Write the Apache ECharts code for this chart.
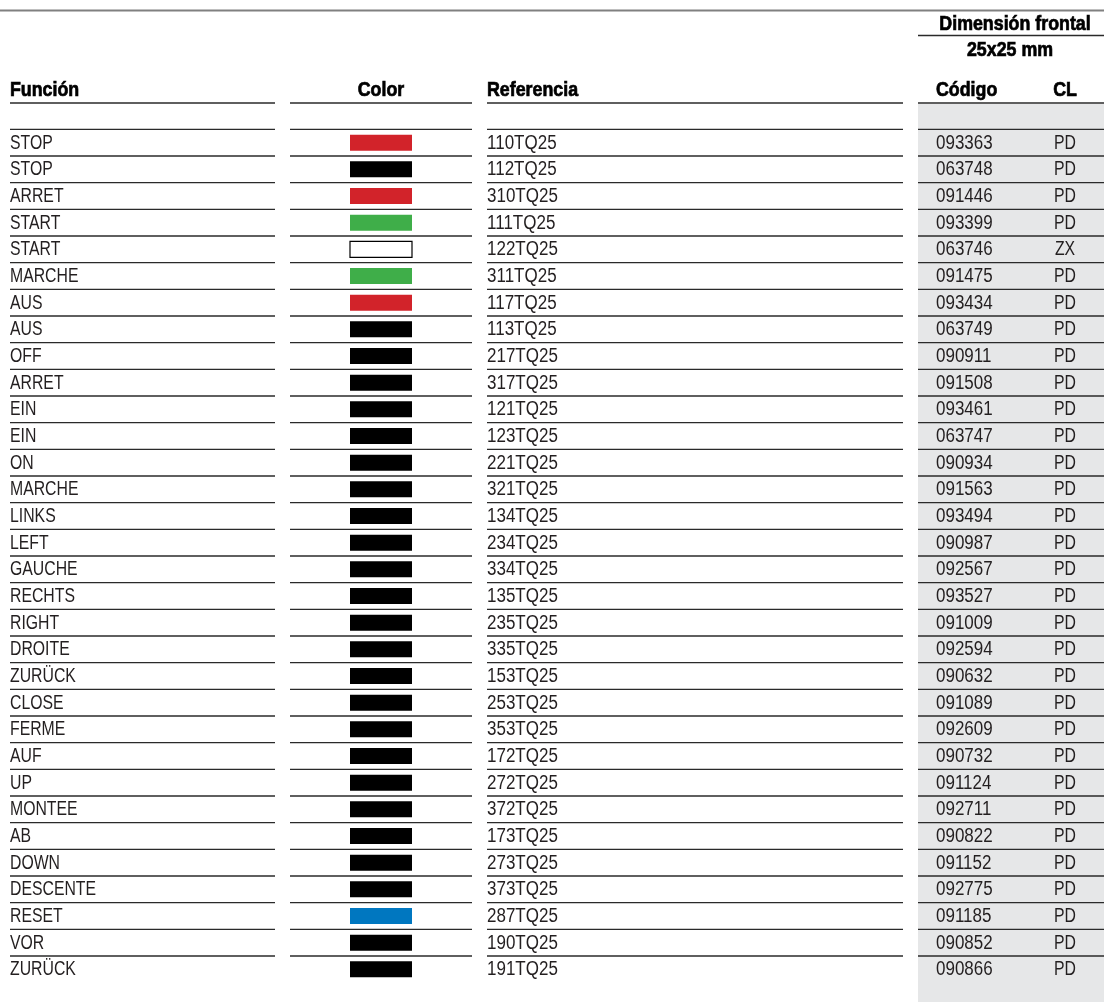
<!DOCTYPE html>
<html>
<head>
<meta charset="utf-8">
<script src="https://cdn.jsdelivr.net/npm/echarts@6/dist/echarts.min.js"></script>
<style>
html,body{margin:0;padding:0;background:#fff;}
#chart{width:1104px;height:1002px;}
</style>
</head>
<body>
<div id="chart"></div>
<script>
// ---- data ----
const funciones = ['STOP','STOP','ARRET','START','START','MARCHE','AUS','AUS','OFF','ARRET','EIN','EIN','ON','MARCHE','LINKS','LEFT','GAUCHE','RECHTS','RIGHT','DROITE','ZURÜCK','CLOSE','FERME','AUF','UP','MONTEE','AB','DOWN','DESCENTE','RESET','VOR','ZURÜCK'];
const colores = ['rojo','negro','rojo','verde','blanco','verde','rojo','negro','negro','negro','negro','negro','negro','negro','negro','negro','negro','negro','negro','negro','negro','negro','negro','negro','negro','negro','negro','negro','negro','azul','negro','negro'];
const referencias = ['110TQ25','112TQ25','310TQ25','111TQ25','122TQ25','311TQ25','117TQ25','113TQ25','217TQ25','317TQ25','121TQ25','123TQ25','221TQ25','321TQ25','134TQ25','234TQ25','334TQ25','135TQ25','235TQ25','335TQ25','153TQ25','253TQ25','353TQ25','172TQ25','272TQ25','372TQ25','173TQ25','273TQ25','373TQ25','287TQ25','190TQ25','191TQ25'];
const codigos = ['093363','063748','091446','093399','063746','091475','093434','063749','090911','091508','093461','063747','090934','091563','093494','090987','092567','093527','091009','092594','090632','091089','092609','090732','091124','092711','090822','091152','092775','091185','090852','090866'];
const clases = ['PD','PD','PD','PD','ZX','PD','PD','PD','PD','PD','PD','PD','PD','PD','PD','PD','PD','PD','PD','PD','PD','PD','PD','PD','PD','PD','PD','PD','PD','PD','PD','PD'];
const encabezados = ['Función','Color','Referencia','Código','CL'];
const grupoTitulo = 'Dimensión frontal';
const grupoSub = '25x25 mm';

// ---- styles / layout ----
const palette = {rojo:'#d2232a', negro:'#000000', verde:'#3fae49', blanco:'#ffffff', azul:'#0077c0'};
const FONT = '"Liberation Sans",Arial,sans-serif';
const FS = 20;
const TXT = '#231f20';
const LINE = '#2a2a2a';
const SX_TXT = 0.79, SX_NUM = 0.85, SX_HDR = 0.89;
const COL = {func:10, funcEnd:275, colorStart:290, colorEnd:472, swL:350, swR:412, ref:487, refEnd:903, gray:918, code:936, cl:1065, end:1104};
const segs = [[COL.func, COL.funcEnd],[COL.colorStart, COL.colorEnd],[COL.ref, COL.refEnd],[COL.gray, COL.end]];
const ROW_TOP = 129.33, ROW_H = 26.667;

const chart = echarts.init(document.getElementById('chart'), null, {renderer:'canvas'});

function txtEl(t, x, y, align, sx, font, fill, heavy) {
  const style = {text:t, x:0, y:0, fill:fill, font:font, textAlign:align, textVerticalAlign:'middle', align:align, verticalAlign:'middle'};
  if (heavy) { style.stroke = fill; style.lineWidth = 0.7; }
  return {type:'text', x:x, y:y, scaleX:sx, scaleY:1, style:style};
}

function renderItem(params, api) {
  const i = api.value(0);
  const yc = api.coord([0, i])[1];
  const h = api.size([0, 1])[1];
  const top = yc - h / 2;
  const X = v => api.coord([v, i])[0];
  const ty = yc + 0.5;
  const children = [];
  segs.forEach(s => {
    children.push({type:'line', shape:{x1:X(s[0]), y1:top, x2:X(s[1]), y2:top}, style:{stroke:LINE, lineWidth:1.3}});
  });
  const col = colores[i];
  children.push({type:'rect', shape:{x:X(COL.swL), y:yc-8, width:X(COL.swR)-X(COL.swL), height:16},
    style:{fill:palette[col], stroke: col === 'blanco' ? '#000' : null, lineWidth: col === 'blanco' ? 1.2 : 0}});
  const f = FS + 'px ' + FONT;
  children.push(txtEl(funciones[i], X(COL.func), ty, 'left', SX_TXT, f, TXT));
  children.push(txtEl(referencias[i], X(COL.ref), ty, 'left', SX_NUM, f, TXT));
  children.push(txtEl(codigos[i], X(COL.code), ty, 'left', SX_NUM, f, TXT));
  children.push(txtEl(clases[i], X(COL.cl), ty, 'center', SX_TXT, f, TXT));
  return {type:'group', children};
}

const hdrFont = 'bold ' + FS + 'px ' + FONT;
const hdrY = 90;
const graphics = [
  {type:'rect', z:-10, shape:{x:COL.gray, y:104, width:COL.end-COL.gray, height:1002-104}, style:{fill:'#e6e7e8'}},
  {type:'line', shape:{x1:0, y1:10.5, x2:1104, y2:10.5}, style:{stroke:'#808080', lineWidth:2}},
  txtEl(grupoTitulo, 1015, 24, 'center', SX_HDR, hdrFont, '#000', true),
  {type:'line', shape:{x1:COL.gray, y1:35.5, x2:COL.end, y2:35.5}, style:{stroke:LINE, lineWidth:1.3}},
  txtEl(grupoSub, 1010, 50, 'center', SX_HDR, hdrFont, '#000', true),
  txtEl(encabezados[0], COL.func, hdrY, 'left', SX_HDR, hdrFont, '#000', true),
  txtEl(encabezados[1], (COL.swL+COL.swR)/2, hdrY, 'center', SX_HDR, hdrFont, '#000', true),
  txtEl(encabezados[2], COL.ref, hdrY, 'left', SX_HDR, hdrFont, '#000', true),
  txtEl(encabezados[3], COL.code, hdrY, 'left', SX_HDR, hdrFont, '#000', true),
  txtEl(encabezados[4], COL.cl, hdrY, 'center', SX_HDR, hdrFont, '#000', true)
];
segs.forEach(s => graphics.push({type:'line', shape:{x1:s[0], y1:103, x2:s[1], y2:103}, style:{stroke:LINE, lineWidth:1.3}}));

chart.setOption({
  animation:false,
  backgroundColor:'#fff',
  grid:{left:0, right:0, top:ROW_TOP, height:ROW_H*funciones.length, containLabel:false},
  xAxis:{type:'value', min:0, max:1104, show:false},
  yAxis:{type:'category', data:funciones.map((f, i) => i), inverse:true, show:false},
  graphic:graphics,
  series:[{
    type:'custom',
    renderItem:renderItem,
    data:funciones.map((f, i) => [i]),
    encode:{y:0},
    clip:false
  }]
});
</script>
</body>
</html>
